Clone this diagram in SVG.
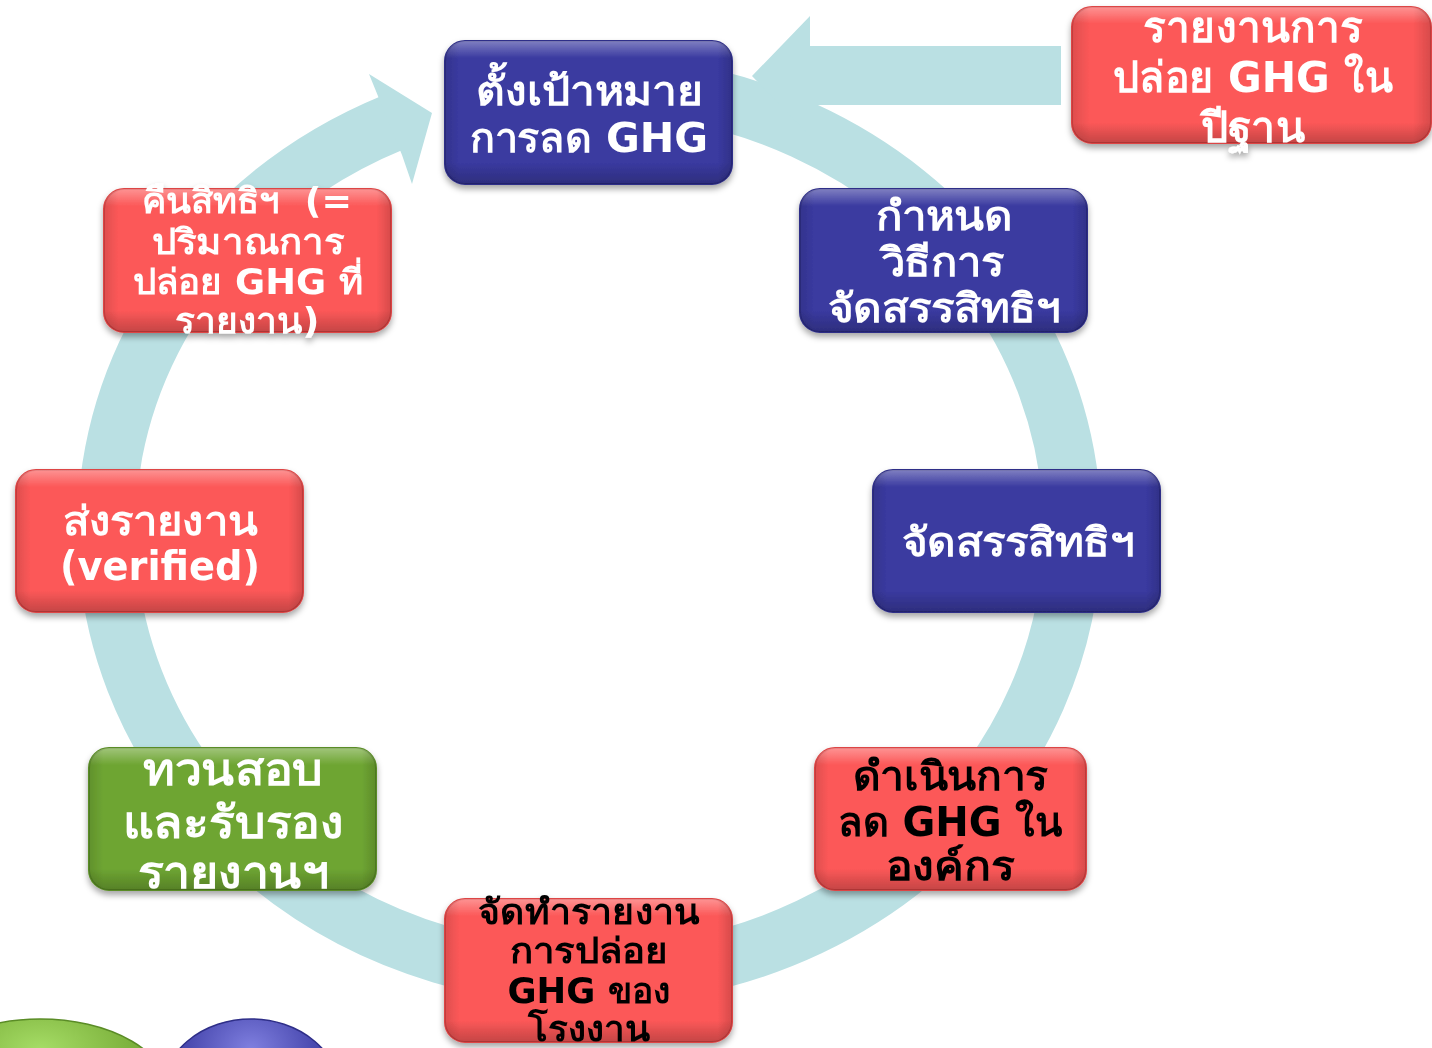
<svg xmlns="http://www.w3.org/2000/svg" width="1432" height="1048" viewBox="0 0 1432 1048">
<defs>
<filter id="sh" x="-10%" y="-10%" width="120%" height="130%">
<feDropShadow dx="0" dy="4" stdDeviation="3" flood-color="#000" flood-opacity="0.35"/>
</filter>
<linearGradient id="gloss" x1="0" y1="0" x2="0" y2="1">
<stop offset="0" stop-color="#fff" stop-opacity="0.35"/>
<stop offset="0.12" stop-color="#fff" stop-opacity="0"/>
<stop offset="0.85" stop-color="#000" stop-opacity="0"/>
<stop offset="1" stop-color="#000" stop-opacity="0.22"/>
</linearGradient>
<linearGradient id="side" x1="0" y1="0" x2="1" y2="0">
<stop offset="0" stop-color="#000" stop-opacity="0.12"/>
<stop offset="0.05" stop-color="#000" stop-opacity="0"/>
<stop offset="0.95" stop-color="#000" stop-opacity="0"/>
<stop offset="1" stop-color="#000" stop-opacity="0.15"/>
</linearGradient>
<radialGradient id="gEll" cx="0.5" cy="0.2" r="0.7">
<stop offset="0" stop-color="#A6DD66"/>
<stop offset="0.5" stop-color="#7DB23D"/>
<stop offset="1" stop-color="#5E9128"/>
</radialGradient>
<radialGradient id="bEll" cx="0.5" cy="0.2" r="0.7">
<stop offset="0" stop-color="#8080E0"/>
<stop offset="0.5" stop-color="#4A4AB0"/>
<stop offset="1" stop-color="#33338F"/>
</radialGradient>
</defs>
<style>
.ring{fill:none;stroke:#BAE0E3;stroke-width:58}
.arr{fill:#BAE0E3}
.blue{fill:#3A3AA0;stroke:#2E2E88;stroke-width:2}
.red{fill:#FC5858;stroke:#DD4444;stroke-width:2}
.green{fill:#6EA532;stroke:#5A8C26;stroke-width:2}
.ov{fill:url(#gloss);stroke:none}
.ov2{fill:url(#side);stroke:none}
text{font-family:'DejaVu Sans','Noto Sans',sans-serif;font-weight:bold;text-anchor:middle}
.w{fill:#fff}
.k{fill:#000}
</style>
<rect width="1432" height="1048" fill="#fff"/>
<g id="connectors">
<path class="ring" d="M 590 84 A 483 446 0 1 1 393 122.5"/>
<polygon class="arr" points="380,101 369,74 432,113 412,184 402,155"/>
<polygon class="arr" points="752,76 810,16 810,46 1061,46 1061,105 810,105 810,136"/>
</g>
<g id="decor">
<ellipse cx="40" cy="1095" rx="130" ry="76" fill="url(#gEll)" stroke="#5A8C26" stroke-width="1.5"/>
<ellipse cx="251" cy="1095" rx="90" ry="76" fill="url(#bEll)" stroke="#2E2E88" stroke-width="1.5"/>
</g>
<g id="node-target" filter="url(#sh)">
<rect class="blue" x="445" y="41" width="287" height="143" rx="20"/>
<rect class="ov" x="445" y="41" width="287" height="143" rx="20"/>
<rect class="ov2" x="445" y="41" width="287" height="143" rx="20"/>
<text class="w" x="589" y="105" font-size="40" textLength="226" lengthAdjust="spacingAndGlyphs">ตั้งเป้าหมาย</text>
<text class="w" x="589" y="152" font-size="40" textLength="238" lengthAdjust="spacingAndGlyphs">การลด GHG</text>
</g>
<g id="node-baseyear" filter="url(#sh)">
<rect class="red" x="1072" y="7" width="359" height="136" rx="20"/>
<rect class="ov" x="1072" y="7" width="359" height="136" rx="20"/>
<rect class="ov2" x="1072" y="7" width="359" height="136" rx="20"/>
<text class="w" x="1253" y="42" font-size="42" textLength="220" lengthAdjust="spacingAndGlyphs">รายงานการ</text>
<text class="w" x="1253" y="92" font-size="42" textLength="280" lengthAdjust="spacingAndGlyphs">ปล่อย GHG ใน</text>
<text class="w" x="1253" y="142" font-size="42" textLength="105" lengthAdjust="spacingAndGlyphs">ปีฐาน</text>
</g>
<g id="node-method" filter="url(#sh)">
<rect class="blue" x="800" y="189" width="287" height="143" rx="20"/>
<rect class="ov" x="800" y="189" width="287" height="143" rx="20"/>
<rect class="ov2" x="800" y="189" width="287" height="143" rx="20"/>
<text class="w" x="944" y="230" font-size="40" textLength="137" lengthAdjust="spacingAndGlyphs">กำหนด</text>
<text class="w" x="942" y="276" font-size="40" textLength="123" lengthAdjust="spacingAndGlyphs">วิธีการ</text>
<text class="w" x="944" y="322" font-size="40" textLength="232" lengthAdjust="spacingAndGlyphs">จัดสรรสิทธิฯ</text>
</g>
<g id="node-allocate" filter="url(#sh)">
<rect class="blue" x="873" y="470" width="287" height="142" rx="20"/>
<rect class="ov" x="873" y="470" width="287" height="142" rx="20"/>
<rect class="ov2" x="873" y="470" width="287" height="142" rx="20"/>
<text class="w" x="1018" y="556" font-size="40" textLength="232" lengthAdjust="spacingAndGlyphs">จัดสรรสิทธิฯ</text>
</g>
<g id="node-reduce" filter="url(#sh)">
<rect class="red" x="815" y="748" width="271" height="142" rx="20"/>
<rect class="ov" x="815" y="748" width="271" height="142" rx="20"/>
<rect class="ov2" x="815" y="748" width="271" height="142" rx="20"/>
<text class="k" x="950" y="790" font-size="40" textLength="195" lengthAdjust="spacingAndGlyphs">ดำเนินการ</text>
<text class="k" x="950" y="836" font-size="40" textLength="225" lengthAdjust="spacingAndGlyphs">ลด GHG ใน</text>
<text class="k" x="950" y="880" font-size="40" textLength="129" lengthAdjust="spacingAndGlyphs">องค์กร</text>
</g>
<g id="node-report" filter="url(#sh)">
<rect class="red" x="445" y="899" width="287" height="143" rx="20"/>
<rect class="ov" x="445" y="899" width="287" height="143" rx="20"/>
<rect class="ov2" x="445" y="899" width="287" height="143" rx="20"/>
<text class="k" x="589" y="924" font-size="35" textLength="222" lengthAdjust="spacingAndGlyphs">จัดทำรายงาน</text>
<text class="k" x="589" y="963" font-size="35" textLength="159" lengthAdjust="spacingAndGlyphs">การปล่อย</text>
<text class="k" x="589" y="1003" font-size="35" textLength="163" lengthAdjust="spacingAndGlyphs">GHG ของ</text>
<text class="k" x="589" y="1041" font-size="35" textLength="122" lengthAdjust="spacingAndGlyphs">โรงงาน</text>
</g>
<g id="node-verify" filter="url(#sh)">
<rect class="green" x="89" y="748" width="287" height="142" rx="20"/>
<rect class="ov" x="89" y="748" width="287" height="142" rx="20"/>
<rect class="ov2" x="89" y="748" width="287" height="142" rx="20"/>
<text class="w" x="233" y="785" font-size="45" textLength="181" lengthAdjust="spacingAndGlyphs">ทวนสอบ</text>
<text class="w" x="233" y="838" font-size="45" textLength="221" lengthAdjust="spacingAndGlyphs">และรับรอง</text>
<text class="w" x="233" y="888" font-size="45" textLength="191" lengthAdjust="spacingAndGlyphs">รายงานฯ</text>
</g>
<g id="node-submit" filter="url(#sh)">
<rect class="red" x="16" y="470" width="287" height="142" rx="20"/>
<rect class="ov" x="16" y="470" width="287" height="142" rx="20"/>
<rect class="ov2" x="16" y="470" width="287" height="142" rx="20"/>
<text class="w" x="160" y="535" font-size="40" textLength="195" lengthAdjust="spacingAndGlyphs">ส่งรายงาน</text>
<text class="w" x="160" y="580" font-size="40" textLength="200" lengthAdjust="spacingAndGlyphs">(verified)</text>
</g>
<g id="node-return" filter="url(#sh)">
<rect class="red" x="104" y="189" width="287" height="143" rx="20"/>
<rect class="ov" x="104" y="189" width="287" height="143" rx="20"/>
<rect class="ov2" x="104" y="189" width="287" height="143" rx="20"/>
<text class="w" x="247" y="213" font-size="35" textLength="210" lengthAdjust="spacingAndGlyphs">คืนสิทธิฯ&#160; (=</text>
<text class="w" x="248" y="254" font-size="35" textLength="193" lengthAdjust="spacingAndGlyphs">ปริมาณการ</text>
<text class="w" x="248" y="294" font-size="35" textLength="230" lengthAdjust="spacingAndGlyphs">ปล่อย GHG ที่</text>
<text class="w" x="247" y="333" font-size="35" textLength="145" lengthAdjust="spacingAndGlyphs">รายงาน)</text>
</g>
</svg>
